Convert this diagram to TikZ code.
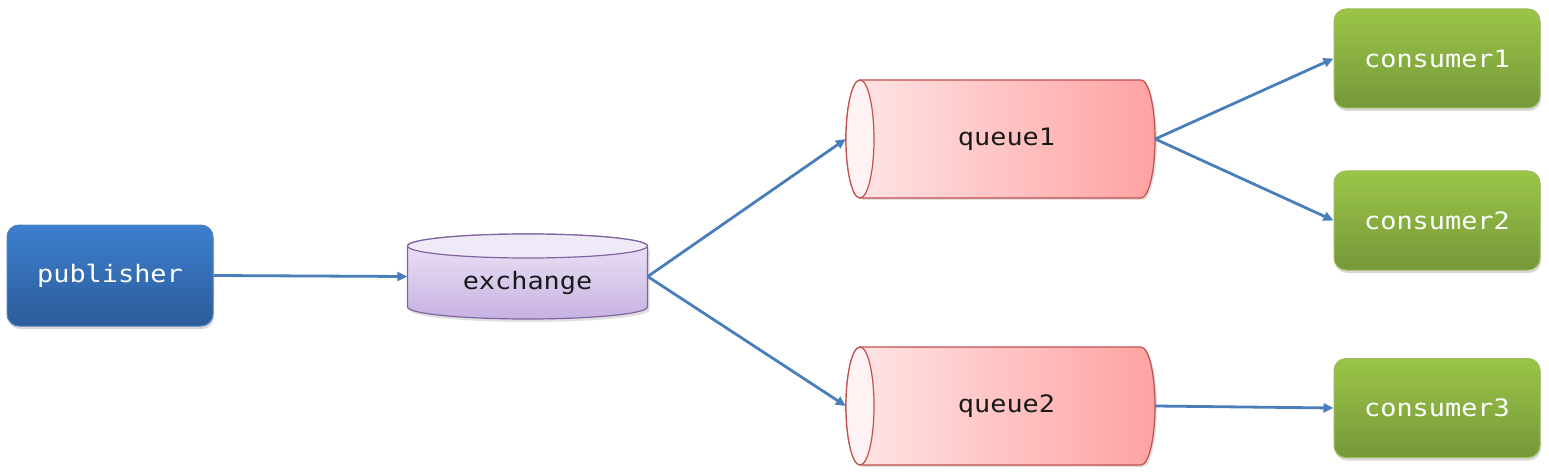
\documentclass[tikz,border=0pt]{standalone}
\usepackage{fontspec}
\newfontfamily\codefont[FakeStretch=1.12]{DejaVu Sans Mono}
\usetikzlibrary{shadows,arrows.meta}
\definecolor{arrowblue}{HTML}{4A7EBB}
\definecolor{pubtop}{HTML}{3D7FCE}
\definecolor{pubbot}{HTML}{2C5C9A}
\definecolor{pubedge}{HTML}{4F81BD}
\definecolor{contop}{HTML}{9BC548}
\definecolor{conbot}{HTML}{75983A}
\definecolor{conedge}{HTML}{9BBB59}
\definecolor{exctop}{HTML}{EEE6F7}
\definecolor{excbot}{HTML}{C7B2E2}
\definecolor{excedge}{HTML}{8064A2}
\definecolor{excface}{HTML}{F0E9F8}
\definecolor{qleft}{HTML}{FFE6E6}
\definecolor{qright}{HTML}{FFA2A2}
\definecolor{qedge}{HTML}{C0504D}
\definecolor{qface}{HTML}{FFF2F2}
\tikzset{
  boxshadow/.style={drop shadow={shadow xshift=1pt,shadow yshift=-3pt,opacity=0.25,fill=black!60}},
  pubbox/.style={rectangle,rounded corners=12pt,minimum width=206pt,minimum height=101pt,inner sep=0pt,
    top color=pubtop,bottom color=pubbot,draw=pubedge,line width=1pt,text=white,font=\codefont\fontsize{24}{28}\selectfont,boxshadow},
  conbox/.style={rectangle,rounded corners=12pt,minimum width=206pt,minimum height=99pt,inner sep=0pt,
    top color=contop,bottom color=conbot,draw=conedge,line width=1pt,text=white,font=\codefont\fontsize{24}{28}\selectfont,boxshadow},
  area/.style={rectangle,inner sep=0pt},
  lbl/.style={font=\codefont\fontsize{24}{28}\selectfont,text=black!90},
  flow/.style={draw=arrowblue,line width=2.8pt,-{Triangle[length=10pt,width=9pt]}},
}
\begin{document}
\begin{tikzpicture}[x=1pt,y=-1pt]
\useasboundingbox (0,0) rectangle (1549,473);
% exchange cylinder
\fill[black,opacity=0.12] (409.5,249) -- (409.5,310) arc[start angle=180,end angle=0,x radius=120,y radius=12] -- (649.5,249) -- cycle;
\shade[top color=exctop,bottom color=excbot,draw=excedge,line width=1.2pt]
  (407.5,246) -- (407.5,307) arc[start angle=180,end angle=0,x radius=120,y radius=12]
  -- (647.5,246) arc[start angle=0,end angle=-180,x radius=120,y radius=12] -- cycle;
\draw[excedge,line width=1.2pt,fill=excface] (527.5,246) ellipse[x radius=120,y radius=12];
% queue cylinders
\foreach \cy in {139,406}{
  \fill[black,opacity=0.12] (862,\cy-57) -- (1143,\cy-57) arc[start angle=-90,end angle=90,x radius=14,y radius=59] -- (862,\cy+61) -- cycle;
  \shade[left color=qleft,right color=qright,draw=qedge,line width=1.2pt]
    (860,\cy-59) -- (1141,\cy-59) arc[start angle=-90,end angle=90,x radius=14,y radius=59]
    -- (860,\cy+59) arc[start angle=90,end angle=270,x radius=14,y radius=59] -- cycle;
  \draw[qedge,line width=1.2pt,fill=qface] (860,\cy) ellipse[x radius=14,y radius=59];
}
% nodes
\node[pubbox] (publisher) at (110,275.5) {publisher};
\node[area,minimum width=240pt,minimum height=85pt,label={[lbl,yshift=-6pt]center:exchange}] (exchange) at (527.5,276.5) {};
\node[area,minimum width=309pt,minimum height=118pt,label={[lbl,xshift=6pt]center:queue1}] (queue1) at (1000.5,139) {};
\node[area,minimum width=309pt,minimum height=118pt,label={[lbl,xshift=6pt]center:queue2}] (queue2) at (1000.5,406) {};
\node[conbox] (consumer1) at (1437,58.5) {consumer1};
\node[conbox] (consumer2) at (1437,220.5) {consumer2};
\node[conbox] (consumer3) at (1437,408) {consumer3};
% connectors
\draw[flow] (publisher.east) -- (exchange.west);
\draw[flow] (exchange.east) -- (queue1.west);
\draw[flow] (exchange.east) -- (queue2.west);
\draw[flow] (queue1.east) -- (consumer1.west);
\draw[flow] (queue1.east) -- (consumer2.west);
\draw[flow] (queue2.east) -- (consumer3.west);
\end{tikzpicture}
\end{document}
